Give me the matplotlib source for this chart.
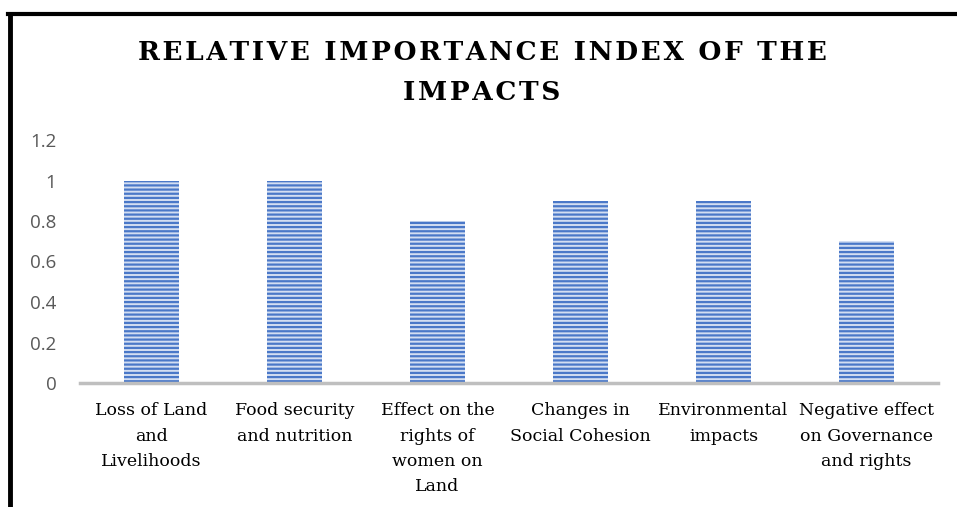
import matplotlib
matplotlib.use("Agg")
import numpy as np
from matplotlib import pyplot as plt
from matplotlib.lines import Line2D

categories = ["Loss of Land\nand\nLivelihoods", "Food security\nand nutrition",
              "Effect on the\nrights of\nwomen on\nLand", "Changes in\nSocial Cohesion",
              "Environmental\nimpacts", "Negative effect\non Governance\nand rights"]
rii = [1.0, 1.0, 0.8, 0.9, 0.9, 0.7]
yticks = [0, 0.2, 0.4, 0.6, 0.8, 1.0, 1.2]
ytick_labels = ["0", "0.2", "0.4", "0.6", "0.8", "1", "1.2"]

plt.rcParams["hatch.linewidth"] = 1.6

fig = plt.figure(figsize=(9.57, 5.07), dpi=100)
ax = fig.add_axes([80 / 957, 1 - 383 / 507, 858 / 957, 243 / 507])

x = np.arange(len(categories))
ax.bar(x, rii, width=0.39, color="#d3def2", edgecolor="#4a78c8",
       hatch="----", linewidth=0)

ax.set_xlim(-0.5, len(categories) - 0.5)
ax.set_ylim(0, 1.2)
ax.set_yticks(yticks)
ax.set_yticklabels(ytick_labels, family=["Open Sans", "DejaVu Sans"],
                   fontsize=13.5, color="#595959")
ax.set_xticks(x)
ax.set_xticklabels(categories, family=["DejaVu Serif"],
                   fontsize=12.5, color="black", linespacing=1.62)
ax.tick_params(axis="both", length=0)
ax.tick_params(axis="y", pad=17)
ax.tick_params(axis="x", pad=14)

for s in ["top", "right", "left"]:
    ax.spines[s].set_visible(False)
ax.spines["bottom"].set_color("#bfbfbf")
ax.spines["bottom"].set_linewidth(2.5)

title_font = ["DejaVu Serif"]
line1 = "RELATIVE IMPORTANCE INDEX OF THE"
line2 = "IMPACTS"
spaced = lambda s: "\u200a".join(s)
fig.text(482 / 957, 1 - 53 / 507, spaced(line1), ha="center", va="center",
         family=title_font, fontsize=19, fontweight="bold")
fig.text(482 / 957, 1 - 92 / 507, spaced(line2), ha="center", va="center",
         family=title_font, fontsize=19, fontweight="bold")

# border of the chart area (left and top edges visible)
fig.add_artist(Line2D([10 / 957, 10 / 957], [0, 1 - 14 / 507],
                      color="black", linewidth=3.5, transform=fig.transFigure))
fig.add_artist(Line2D([8.2 / 957, 1], [1 - 14 / 507, 1 - 14 / 507],
                      color="black", linewidth=3, transform=fig.transFigure))

fig.savefig("out.png", dpi=100)
